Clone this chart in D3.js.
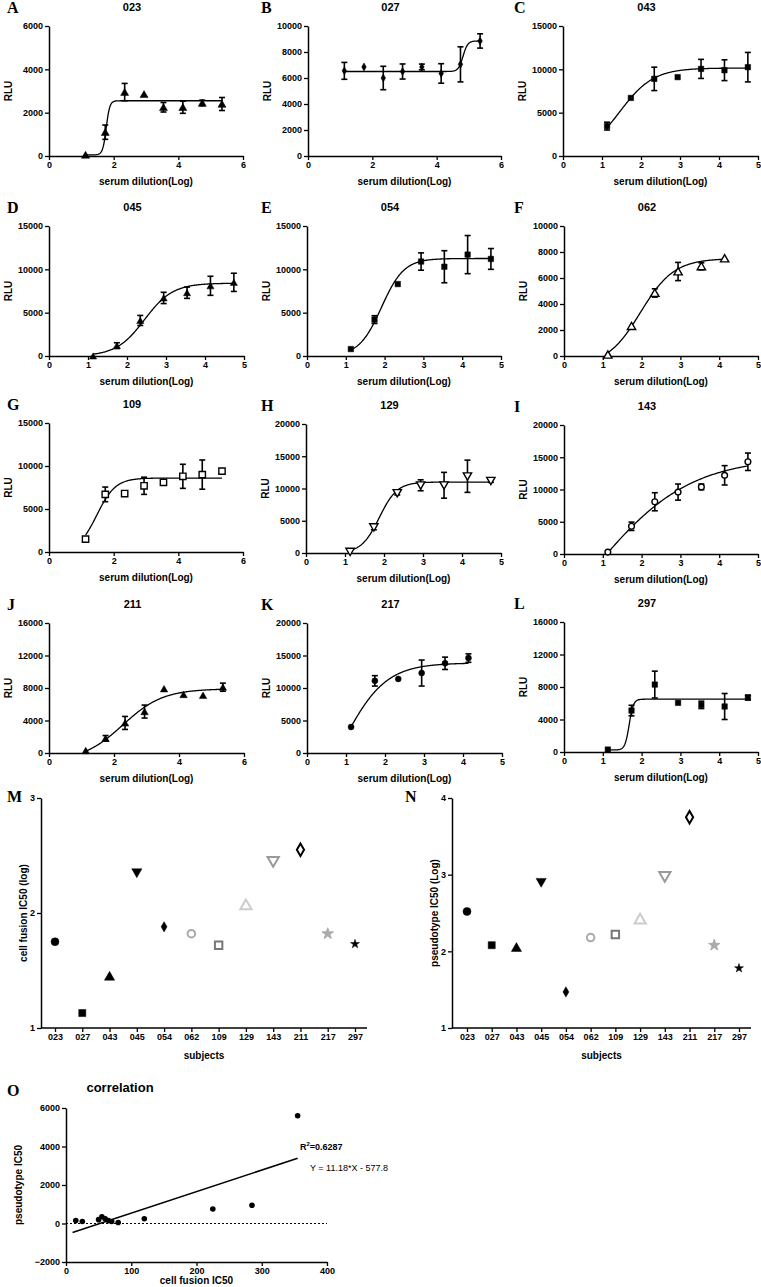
<!DOCTYPE html>
<html><head><meta charset="utf-8">
<script src="https://cdn.jsdelivr.net/npm/d3@7"></script>
<style>body{margin:0;background:#fff}</style></head>
<body><svg id="c" width="761" height="1287"></svg>
<script>
// ---------- data ----------
const dilutionLog = [1.13, 1.74, 2.34, 2.94, 3.54, 4.14, 4.74, 5.35];
const rlu023 = [50, 1100, 2950, 2850, 2250, 2250, 2450, 2400], sd023 = [0, 330, 400, 0, 220, 280, 130, 300];
const rlu027 = [6550, 6850, 6000, 6500, 6850, 6350, 7050, 8850], sd027 = [650, 0, 900, 580, 220, 750, 1350, 550];
const rlu043 = [3450, 6700, 8900, 9100, 10050, 9900, 10250], sd043 = [450, 0, 1350, 0, 1100, 1200, 1700];
const rlu045 = [0, 1200, 4100, 6700, 7300, 8100, 8500], sd045 = [0, 330, 580, 650, 650, 1100, 1050];
const rlu054 = [800, 4200, 8300, 10900, 10300, 11700, 11200], sd054 = [0, 450, 0, 1000, 1850, 2200, 1200];
const rlu062 = [100, 2300, 4850, 6500, 6900, 7500], sd062 = [0, 0, 320, 700, 270, 0];
const rlu109 = [1500, 6700, 6800, 7700, 8100, 8800, 9000, 9400], sd109 = [0, 850, 0, 1000, 250, 1400, 1700, 0];
const rlu129 = [200, 4000, 9300, 10500, 10500, 11900, 11200], sd129 = [0, 400, 300, 850, 2000, 2500, 250];
const rlu143 = [300, 4300, 8100, 9600, 10400, 12200, 14300], sd143 = [0, 650, 1400, 1250, 450, 1500, 1350];
const rlu211 = [300, 1800, 3700, 5100, 7900, 7200, 7100, 8100], sd211 = [0, 350, 800, 800, 0, 0, 0, 500];
const rlu217 = [4000, 11100, 11400, 12300, 13800, 14600], sd217 = [0, 800, 0, 2000, 950, 650];
const rlu297 = [300, 5100, 8300, 6050, 5800, 5600, 6700], sd297 = [0, 650, 1650, 0, 450, 1600, 300];
// 4-parameter logistic fits: [bottom, top, logIC50, hill]
const fit023 = [50, 2550, 1.77, 8], fit027 = [6500, 8850, 4.82, 6], fit043 = [0, 10150, 1.45, 1.0];
const fit045 = [0, 8400, 2.45, 1.2], fit054 = [0, 11250, 1.92, 1.5], fit062 = [-800, 7500, 1.97, 1.0];
const fit109 = [0, 8600, 1.48, 1.5], fit129 = [0, 11000, 1.88, 1.9], fit143 = [-20000, 15000, 0.744, 0.35];
const fit211 = [-1000, 7900, 2.27, 0.7], fit217 = [-10000, 13850, 0.936, 0.8], fit297 = [250, 6500, 1.68, 8];

const subjects = ["023","027","043","045","054","062","109","129","143","211","217","297"];
const cellFusionLog = [1.75, 1.13, 1.45, 2.35, 1.88, 1.82, 1.72, 2.07, 2.45, 2.55, 1.82, 1.73];
const pseudotypeLog = [2.52, 2.08, 2.05, 2.90, 1.47, 2.18, 2.22, 2.42, 2.98, 3.75, 2.08, 1.78];
const fusionIC50 = [15, 25, 50, 55, 60, 65, 70, 80, 120, 225, 285, 355];
const pseudoIC50 = [150, 100, 200, 350, 250, 150, 100, 50, 250, 750, 950, 5600];
const regSlope = 11.18, regIntercept = -577.8, regR2 = "0.6287";

// ---------- helpers ----------
const svg = d3.select("#c");
const SANS = "Arial, 'Liberation Sans', sans-serif";
const SERIF = "'Times New Roman', 'Liberation Serif', serif";

function symPath(shape, size) {
  const map = {circle: d3.symbolCircle, square: d3.symbolSquare, triUp: d3.symbolTriangle,
    triDown: d3.symbolTriangle, diamond: d3.symbolDiamond, star: d3.symbolStar, asterisk: d3.symbolAsterisk};
  return d3.symbol(map[shape], size)();
}
function marker(g, m, x, y) {
  const rot = m.shape === "triDown" ? 180 : 0;
  const dy = m.shape === "triUp" ? 1 : (m.shape === "triDown" ? -1 : 0);
  g.append("path").attr("d", symPath(m.shape, m.size))
    .attr("transform", `translate(${x},${y + dy}) rotate(${rot})`)
    .attr("fill", m.fill).attr("stroke", m.stroke).attr("stroke-width", m.sw);
}
function styleAxis(sel) {
  sel.selectAll("path.domain").attr("stroke", "#000").attr("stroke-width", 1.5);
  sel.selectAll(".tick line").attr("stroke", "#000").attr("stroke-width", 1.3);
  sel.selectAll(".tick text").attr("font-family", SANS).attr("font-weight", "bold")
    .attr("font-size", 9).attr("fill", "#000");
}
const FILL = (s, sz) => ({shape: s, size: sz || 30, fill: "#000", stroke: "#000", sw: 0.5});
const OPEN = (s, sz) => ({shape: s, size: sz || 30, fill: "#fff", stroke: "#000", sw: 1.4});

const curves = [
  {key:"023", letter:"A", y: rlu023, e: sd023, fit: fit023, l:49, r:243, t:26, b:156, xMax:6, xStep:2, yMax:6000, yStep:2000, mk: FILL("triUp", 28)},
  {key:"027", letter:"B", y: rlu027, e: sd027, fit: fit027, l:308, r:501, t:26, b:156, xMax:6, xStep:2, yMax:10000, yStep:2000, mk: FILL("diamond", 18)},
  {key:"043", letter:"C", y: rlu043, e: sd043, fit: fit043, l:563, r:758, t:26, b:156, xMax:5, xStep:1, yMax:15000, yStep:5000, mk: FILL("square", 30)},
  {key:"045", letter:"D", y: rlu045, e: sd045, fit: fit045, l:49, r:244, t:226, b:356, xMax:5, xStep:1, yMax:15000, yStep:5000, mk: FILL("triUp", 22)},
  {key:"054", letter:"E", y: rlu054, e: sd054, fit: fit054, l:307, r:501, t:226, b:356, xMax:5, xStep:1, yMax:15000, yStep:5000, mk: FILL("square", 30)},
  {key:"062", letter:"F", y: rlu062, e: sd062, fit: fit062, l:564, r:758, t:226, b:356, xMax:5, xStep:1, yMax:10000, yStep:2000, mk: OPEN("triUp", 30)},
  {key:"109", letter:"G", y: rlu109, e: sd109, fit: fit109, l:49, r:243, t:423, b:552, xMax:6, xStep:2, yMax:15000, yStep:5000, mk: OPEN("square", 40)},
  {key:"129", letter:"H", y: rlu129, e: sd129, fit: fit129, l:306, r:501, t:424, b:553, xMax:5, xStep:1, yMax:20000, yStep:5000, mk: OPEN("triDown", 30)},
  {key:"143", letter:"I", y: rlu143, e: sd143, fit: fit143, l:564, r:758, t:425, b:554, xMax:5, xStep:1, yMax:20000, yStep:5000, mk: OPEN("circle", 26)},
  {key:"211", letter:"J", y: rlu211, e: sd211, fit: fit211, l:49, r:244, t:623, b:753, xMax:6, xStep:2, yMax:16000, yStep:4000, mk: FILL("triUp", 24)},
  {key:"217", letter:"K", y: rlu217, e: sd217, fit: fit217, l:307, r:502, t:623, b:753, xMax:5, xStep:1, yMax:20000, yStep:5000, mk: FILL("circle", 28)},
  {key:"297", letter:"L", y: rlu297, e: sd297, fit: fit297, l:564, r:758, t:622, b:752, xMax:5, xStep:1, yMax:16000, yStep:4000, mk: FILL("square", 30)}
];

function logistic(p, x) { return p[0] + (p[1] - p[0]) / (1 + Math.pow(10, (p[2] - x) * p[3])); }

curves.forEach(P => {
  const g = svg.append("g");
  const x = d3.scaleLinear().domain([0, P.xMax]).range([P.l, P.r]);
  const y = d3.scaleLinear().domain([0, P.yMax]).range([P.b, P.t]);
  const ax = g.append("g").attr("transform", `translate(0,${P.b})`)
    .call(d3.axisBottom(x).tickValues(d3.range(0, P.xMax + 0.01, P.xStep)).tickSize(4).tickSizeOuter(0).tickPadding(2).tickFormat(d3.format("d")));
  styleAxis(ax);
  const ay = g.append("g").attr("transform", `translate(${P.l},0)`)
    .call(d3.axisLeft(y).tickValues(d3.range(0, P.yMax + 1, P.yStep)).tickSize(4).tickSizeOuter(0).tickPadding(2).tickFormat(d3.format("d")));
  styleAxis(ay);
  const xs = dilutionLog.slice(0, P.y.length);
  const fx = d3.range(xs[0], xs[xs.length - 1] + 1e-9, (xs[xs.length - 1] - xs[0]) / 200);
  g.append("path").datum(fx).attr("fill", "none").attr("stroke", "#000").attr("stroke-width", 1.3)
    .attr("d", d3.line().x(d => x(d)).y(d => y(logistic(P.fit, d))));
  xs.forEach((xv, i) => {
    if (P.e[i] > 0) {
      const y1 = y(P.y[i] + P.e[i]), y2 = y(P.y[i] - P.e[i]), cx = x(xv);
      g.append("line").attr("x1", cx).attr("x2", cx).attr("y1", y1).attr("y2", y2).attr("stroke", "#000").attr("stroke-width", 1.6);
      [y1, y2].forEach(yy => g.append("line").attr("x1", cx - 3).attr("x2", cx + 3).attr("y1", yy).attr("y2", yy).attr("stroke", "#000").attr("stroke-width", 1.6));
    }
  });
  xs.forEach((xv, i) => marker(g, P.mk, x(xv), y(P.y[i])));
  g.append("text").attr("x", (P.l + P.r) / 2 - 14).attr("y", P.t - 15).attr("text-anchor", "middle")
    .attr("font-family", SANS).attr("font-weight", "bold").attr("font-size", 11).text(P.key);
  const lx = P.l < 100 ? 7 : (P.l < 400 ? 261 : 514);
  g.append("text").attr("x", lx).attr("y", P.t - 13).attr("font-family", SERIF).attr("font-weight", "bold")
    .attr("font-size", 16).text(P.letter);
  g.append("text").attr("x", (P.l + P.r) / 2).attr("y", P.b + 29).attr("text-anchor", "middle")
    .attr("font-family", SANS).attr("font-weight", "bold").attr("font-size", 10).text("serum dilution(Log)");
  g.append("text").attr("transform", `translate(${P.l - 37},${(P.t + P.b) / 2}) rotate(-90)`).attr("text-anchor", "middle")
    .attr("font-family", SANS).attr("font-weight", "bold").attr("font-size", 10).text("RLU");
});

// ---------- M and N ----------
const subjMarkers = [
  FILL("circle", 50), FILL("square", 50), FILL("triUp", 45), FILL("triDown", 45), FILL("diamond", 30),
  {shape:"circle", size:45, fill:"#fff", stroke:"#aaa", sw:2},
  {shape:"square", size:55, fill:"#fff", stroke:"#777", sw:2},
  {shape:"triUp", size:55, fill:"#fff", stroke:"#ccc", sw:2},
  {shape:"triDown", size:55, fill:"#fff", stroke:"#999", sw:2},
  {shape:"diamond", size:45, fill:"#fff", stroke:"#000", sw:2},
  {shape:"star", size:40, fill:"#aaa", stroke:"#aaa", sw:1},
  {shape:"star", size:25, fill:"#000", stroke:"#000", sw:0.5}
];
function scatterPanel(o) {
  const g = svg.append("g");
  const x = d3.scalePoint().domain(subjects).range([o.x0, o.x1]);
  const y = d3.scaleLinear().domain(o.ydom).range([o.b, o.t]);
  const ax = g.append("g").attr("transform", `translate(0,${o.b})`)
    .call(d3.axisBottom(x).tickSize(4).tickSizeOuter(0).tickPadding(2));
  ax.select("path.domain").attr("d", `M${o.l},0H${o.x1 + 12}`);
  styleAxis(ax);
  const ay = g.append("g").attr("transform", `translate(${o.l},0)`)
    .call(d3.axisLeft(y).tickValues(d3.range(o.ydom[0], o.ydom[1] + 0.01, 1)).tickSize(4).tickSizeOuter(0).tickPadding(2).tickFormat(d3.format("d")));
  styleAxis(ay);
  o.vals.forEach((v, i) => marker(g, subjMarkers[i], x(subjects[i]), y(v)));
  g.append("text").attr("x", (o.l + o.x1 + 12) / 2).attr("y", o.b + 31).attr("text-anchor", "middle")
    .attr("font-family", SANS).attr("font-weight", "bold").attr("font-size", 10).text("subjects");
  g.append("text").attr("transform", `translate(${o.l - 14},${(o.t + o.b) / 2}) rotate(-90)`).attr("text-anchor", "middle")
    .attr("font-family", SANS).attr("font-weight", "bold").attr("font-size", 10).text(o.ylab);
  g.append("text").attr("x", o.lx).attr("y", o.t + 4).attr("font-family", SERIF).attr("font-weight", "bold")
    .attr("font-size", 16).text(o.letter);
}
scatterPanel({letter:"M", lx:7, l:41, x0:55, x1:355, t:798, b:1028, ydom:[1,3], vals: cellFusionLog, ylab:"cell fusion IC50 (log)"});
scatterPanel({letter:"N", lx:405, l:452, x0:467, x1:739, t:798, b:1028, ydom:[1,4], vals: pseudotypeLog, ylab:"pseudotype IC50 (Log)"});

// ---------- O ----------
(function(){
  const g = svg.append("g");
  const l = 66, r = 327, t = 1108, b = 1262;
  const x = d3.scaleLinear().domain([0, 400]).range([l, r]);
  const y = d3.scaleLinear().domain([-2000, 6000]).range([b, t]);
  const ax = g.append("g").attr("transform", `translate(0,${b})`)
    .call(d3.axisBottom(x).ticks(4).tickSize(4).tickSizeOuter(0).tickPadding(2));
  styleAxis(ax);
  const ay = g.append("g").attr("transform", `translate(${l},0)`)
    .call(d3.axisLeft(y).tickValues([-2000, 0, 2000, 4000, 6000]).tickSize(4).tickSizeOuter(0).tickPadding(2).tickFormat(d3.format("d")));
  styleAxis(ay);
  g.append("line").attr("x1", l).attr("x2", r).attr("y1", y(0)).attr("y2", y(0))
    .attr("stroke", "#000").attr("stroke-width", 1).attr("stroke-dasharray", "2,2");
  g.append("line").attr("x1", x(10)).attr("x2", x(355))
    .attr("y1", y(regSlope * 10 + regIntercept)).attr("y2", y(regSlope * 355 + regIntercept))
    .attr("stroke", "#000").attr("stroke-width", 1.5);
  fusionIC50.forEach((v, i) => g.append("circle").attr("cx", x(v)).attr("cy", y(pseudoIC50[i])).attr("r", 2.8).attr("fill", "#000"));
  const rt = g.append("text").attr("x", 300).attr("y", 1150).attr("font-family", SANS).attr("font-weight", "bold").attr("font-size", 9);
  rt.append("tspan").text("R");
  rt.append("tspan").attr("font-size", 6).attr("dy", -4).text("2");
  rt.append("tspan").attr("dy", 4).text("=" + regR2);
  g.append("text").attr("x", 310).attr("y", 1171).attr("font-family", SANS).attr("font-size", 9)
    .text(`Y = ${regSlope}*X - ${Math.abs(regIntercept)}`);
  g.append("text").attr("x", 120).attr("y", 1092).attr("text-anchor", "middle").attr("font-family", SANS)
    .attr("font-weight", "bold").attr("font-size", 13).text("correlation");
  g.append("text").attr("x", (l + r) / 2).attr("y", 1284).attr("text-anchor", "middle").attr("font-family", SANS)
    .attr("font-weight", "bold").attr("font-size", 10).text("cell fusion IC50");
  g.append("text").attr("transform", `translate(22,${(t + b) / 2}) rotate(-90)`).attr("text-anchor", "middle")
    .attr("font-family", SANS).attr("font-weight", "bold").attr("font-size", 10).text("pseudotype IC50");
  g.append("text").attr("x", 7).attr("y", 1096).attr("font-family", SERIF).attr("font-weight", "bold")
    .attr("font-size", 16).text("O");
})();
</script></body></html>
